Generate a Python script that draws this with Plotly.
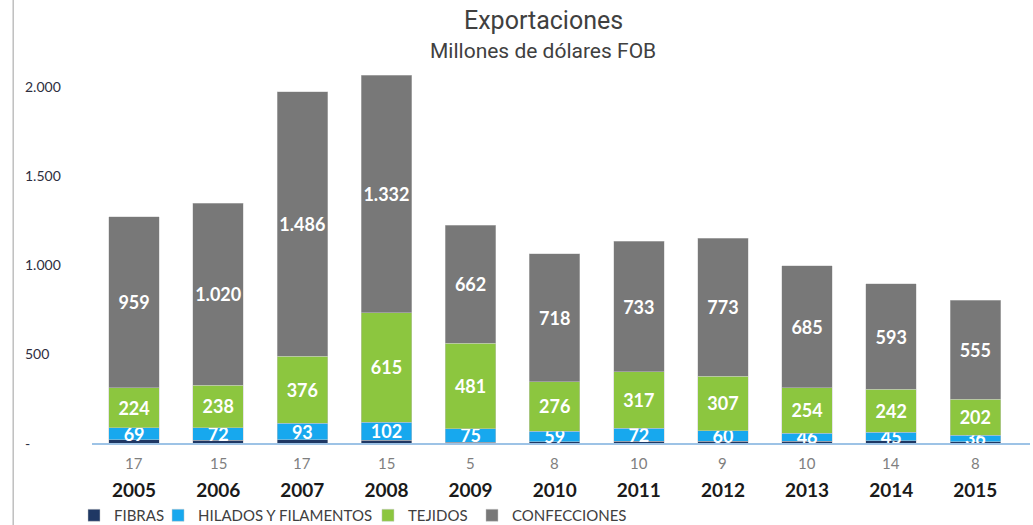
import plotly.graph_objects as go

years = ["2005", "2006", "2007", "2008", "2009", "2010", "2011", "2012", "2013", "2014", "2015"]
fibras = [17, 15, 17, 15, 5, 8, 10, 9, 10, 14, 8]
hilados = [69, 72, 93, 102, 75, 59, 72, 60, 46, 45, 36]
tejidos = [224, 238, 376, 615, 481, 276, 317, 307, 254, 242, 202]
confecciones = [959, 1020, 1486, 1332, 662, 718, 733, 773, 685, 593, 555]
ytick_vals = [0, 500, 1000, 1500, 2000]
ytick_text = ["-", "500", "1.000", "1.500", "2.000"]


def fmt(v):
    return f"{v:,}".replace(",", ".")


FONT = "Lato, 'Open Sans', sans-serif"
fig = go.Figure()
series = [
    ("FIBRAS", fibras, "#1F3864", False, "legend", -0.0192),
    ("HILADOS Y FILAMENTOS", hilados, "#17A8EE", True, "legend2", 0.0704),
    ("TEJIDOS", tejidos, "#8CC63F", True, "legend3", 0.2942),
    ("CONFECCIONES", confecciones, "#787878", True, "legend4", 0.4051),
]
legends = {}
for name, vals, color, show, lg, lx in series:
    fig.add_trace(go.Bar(
        x=years, y=vals, name=name,
        marker=dict(color=color, line=dict(width=0.8, color="rgba(200,200,200,0.6)")),
        text=[fmt(v) for v in vals] if show else None,
        textposition="inside" if show else "none",
        insidetextanchor="middle", textangle=0,
        textfont=dict(family=FONT, size=18, color="white", weight="bold"),
        width=0.6, cliponaxis=False, legend=lg, hoverinfo="skip",
    ))
    legends[lg] = dict(orientation="h", x=lx, xanchor="left", y=-0.185, yanchor="middle",
                       font=dict(family=FONT, size=15, color="#404040"),
                       bgcolor="rgba(0,0,0,0)", itemwidth=30)

# FIBRAS values shown below the axis
for i, v in enumerate(fibras):
    fig.add_annotation(x=i, xref="x", y=0, yref="y", yshift=-20, text=str(v), showarrow=False,
                       font=dict(family=FONT, size=15, color="#7F7F7F"))

# y tick labels (left-aligned)
for v, t in zip(ytick_vals, ytick_text):
    fig.add_annotation(x=-0.074, xref="paper", xanchor="left", y=v, yref="y", text=t,
                       showarrow=False, font=dict(family=FONT, size=14, color="#2E2E3E"))

# titles
fig.add_annotation(x=0.481, xref="paper", y=1.079, yref="paper", yanchor="middle",
                   text="Exportaciones", showarrow=False,
                   font=dict(family="Roboto, Lato, sans-serif", size=25, color="#404040"))
fig.add_annotation(x=0.481, xref="paper", y=1.0, yref="paper", yanchor="middle",
                   text="Millones de dólares FOB", showarrow=False,
                   font=dict(family="Roboto, Lato, sans-serif", size=21, color="#404040"))

fig.add_shape(type="line", xref="paper", yref="paper", x0=-0.084, x1=-0.084, y0=-0.3, y1=1.2,
              line=dict(color="#BFBFBF", width=1.5))

fig.update_layout(
    width=1033, height=525,
    margin=dict(l=92, r=3, t=51, b=82, autoexpand=False),
    barmode="stack",
    plot_bgcolor="white", paper_bgcolor="white",
    uniformtext=dict(minsize=18, mode="show"),
    xaxis=dict(
        type="category", range=[-0.5, 10.65], showgrid=False, showline=True,
        linecolor="#9DC3E6", linewidth=1.5, ticks="", automargin=False,
        tickvals=years, ticktext=[f"<b>{y}</b>" for y in years],
        tickfont=dict(family=FONT, size=19, color="#1A1A1A"),
        ticklabelstandoff=29,
    ),
    yaxis=dict(range=[0, 2200], showgrid=False, zeroline=False, showticklabels=False,
               tickvals=ytick_vals, automargin=False),
    showlegend=True,
    **legends,
)
fig.write_html("out.html", post_script="document.body.style.margin='0';",
               config={"displayModeBar": False})
